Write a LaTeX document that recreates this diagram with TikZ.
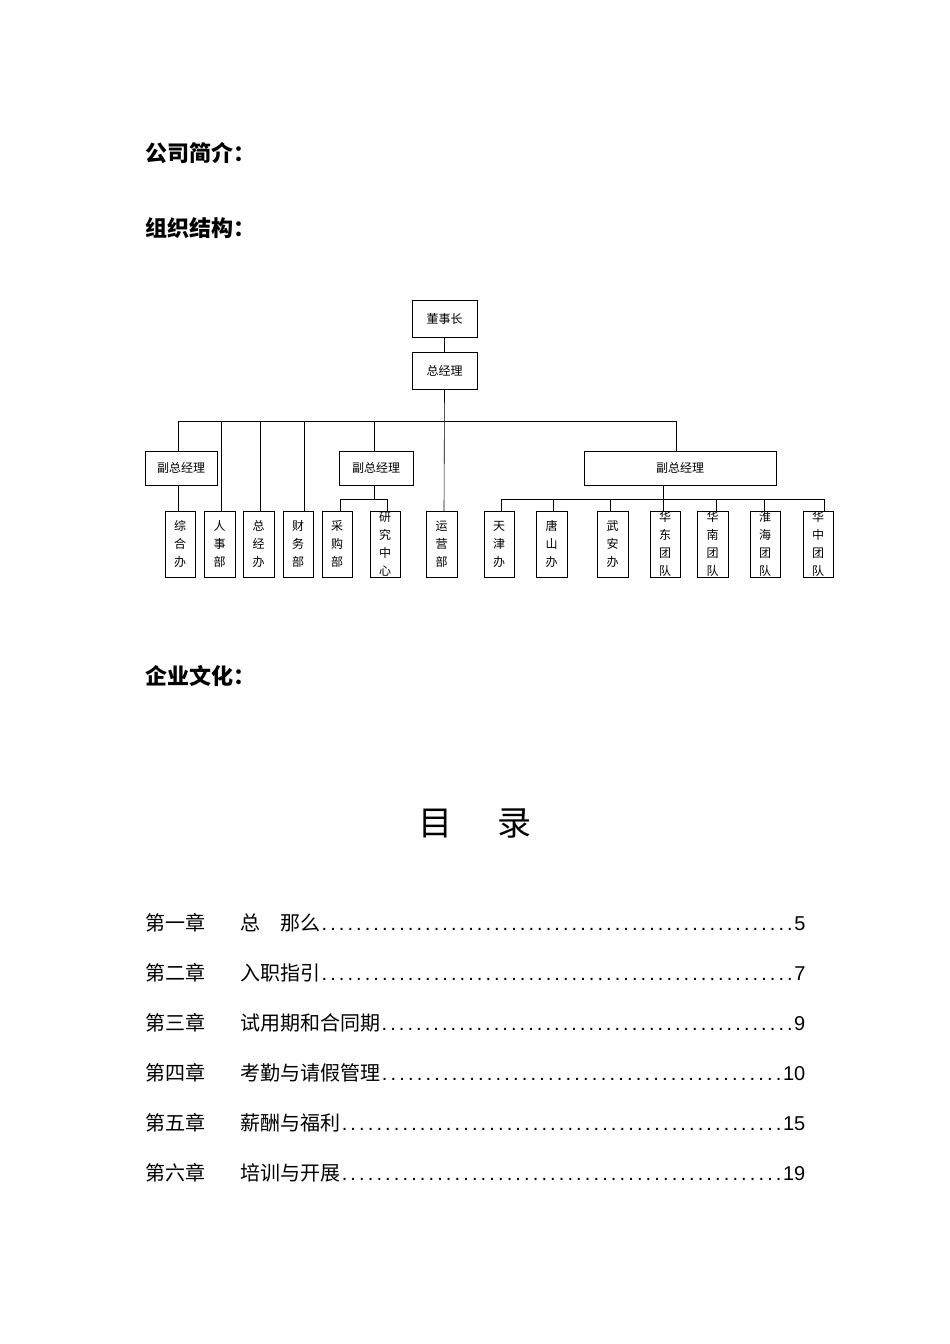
\documentclass[tikz,border=0pt]{standalone}
\usepackage{fontspec}
\setmainfont{Noto Sans CJK SC}
\newfontfamily\latinf{Liberation Sans}
\begin{document}
\begin{tikzpicture}[x=1pt,y=-1pt,
  bx/.style={draw,line width=0.6pt,inner sep=0pt,font=\fontsize{12}{12}\selectfont},
  ln/.style={line width=0.6pt},
  vt/.style={font=\fontsize{12}{18}\selectfont,align=center,inner sep=0pt},
  hd/.style={anchor=west,font=\fontsize{22}{22}\selectfont\bfseries,inner sep=0pt},
  tc/.style={anchor=base west,font=\fontsize{20}{20}\selectfont,inner sep=0pt}]
\useasboundingbox (0,0) rectangle (950,1344);
\fill[white] (0,0) rectangle (950,1344);
\node[hd] (h1) at (145,153) {公司简介：};
\node[hd] (h2) at (145,228) {组织结构：};
\node[hd] (h3) at (145,676) {企业文化：};
% org chart
\node[bx,minimum width=65pt,minimum height=37pt] (dsz) at (444.5,318.5) {董事长};
\node[bx,minimum width=65pt,minimum height=37pt] (zjl) at (444.5,370.5) {总经理};
\node[bx,minimum width=72pt,minimum height=34pt] (d1) at (181,468) {副总经理};
\node[bx,minimum width=74pt,minimum height=34pt] (d2) at (376,468) {副总经理};
\node[bx,minimum width=192pt,minimum height=34pt] (d3) at (680,468) {副总经理};
\foreach \n/\xa/\xb/\t in {b1/165/195/{综\\合\\办},b2/204/235/{人\\事\\部},b3/243/274/{总\\经\\办},b4/283/313/{财\\务\\部},b5/322/352/{采\\购\\部},b6/370/400/{研\\究\\中\\心},b7/426/457/{运\\营\\部},b8/484/514/{天\\津\\办},b9/536/567/{唐\\山\\办},b10/597/628/{武\\安\\办},b11/650/680/{华\\东\\团\\队},b12/697/728/{华\\南\\团\\队},b13/750/780/{淮\\海\\团\\队},b14/803/833/{华\\中\\团\\队}}{
  \draw[ln] (\xa,511) rectangle (\xb,577);
  \coordinate (\n) at ({(\xa+\xb)/2},511);
  \node[vt] (\n t) at ({(\xa+\xb)/2},544) {\t};
}
\coordinate (busL) at (178,421);
\coordinate (busR) at (676,421);
\draw[ln] (dsz) -- (zjl);
\draw[ln] (zjl.south) -- (444,511);
\draw[ln] (busL) -- (busR);
\draw[ln] (busL) -- (d1.north -| busL);
\draw[ln] (221,421) -- (221,511);
\draw[ln] (260,421) -- (260,511);
\draw[ln] (304,421) -- (304,511);
\draw[ln] (374,421) -- (374,451);
\draw[ln] (busR) -- (676,451);
\draw[ln] (178,485) -- (178,511);
\draw[ln] (374,485) -- (374,499) (340,499) -- (387,499) (340,499) -- (340,511) (387,499) -- (387,511);
\draw[ln] (663,485) -- (663,511) (501,499) -- (824,499);
\foreach \xx in {501,553,610,716,764,824} \draw[ln] (\xx,499) -- (\xx,511);
% TOC
\node[font=\fontsize{34}{34}\selectfont,inner sep=0pt] (mulu) at (475,823) {目\hspace{1.3em}录};
\foreach \y/\c/\t/\p in {930/第一章/{总\hspace{1em}那么}/5,980/第二章/入职指引/7,1030/第三章/试用期和合同期/9,1080/第四章/考勤与请假管理/10,1130/第五章/薪酬与福利/15,1180/第六章/培训与开展/19}{
  \node[tc] at (145,\y) {\c};
  \node[tc] at (240,\y) {\hbox to 565pt{\t\latinf\xleaders\hbox to 8.6pt{\hss.\hss}\hfill\p}};
}
\end{tikzpicture}
\end{document}
